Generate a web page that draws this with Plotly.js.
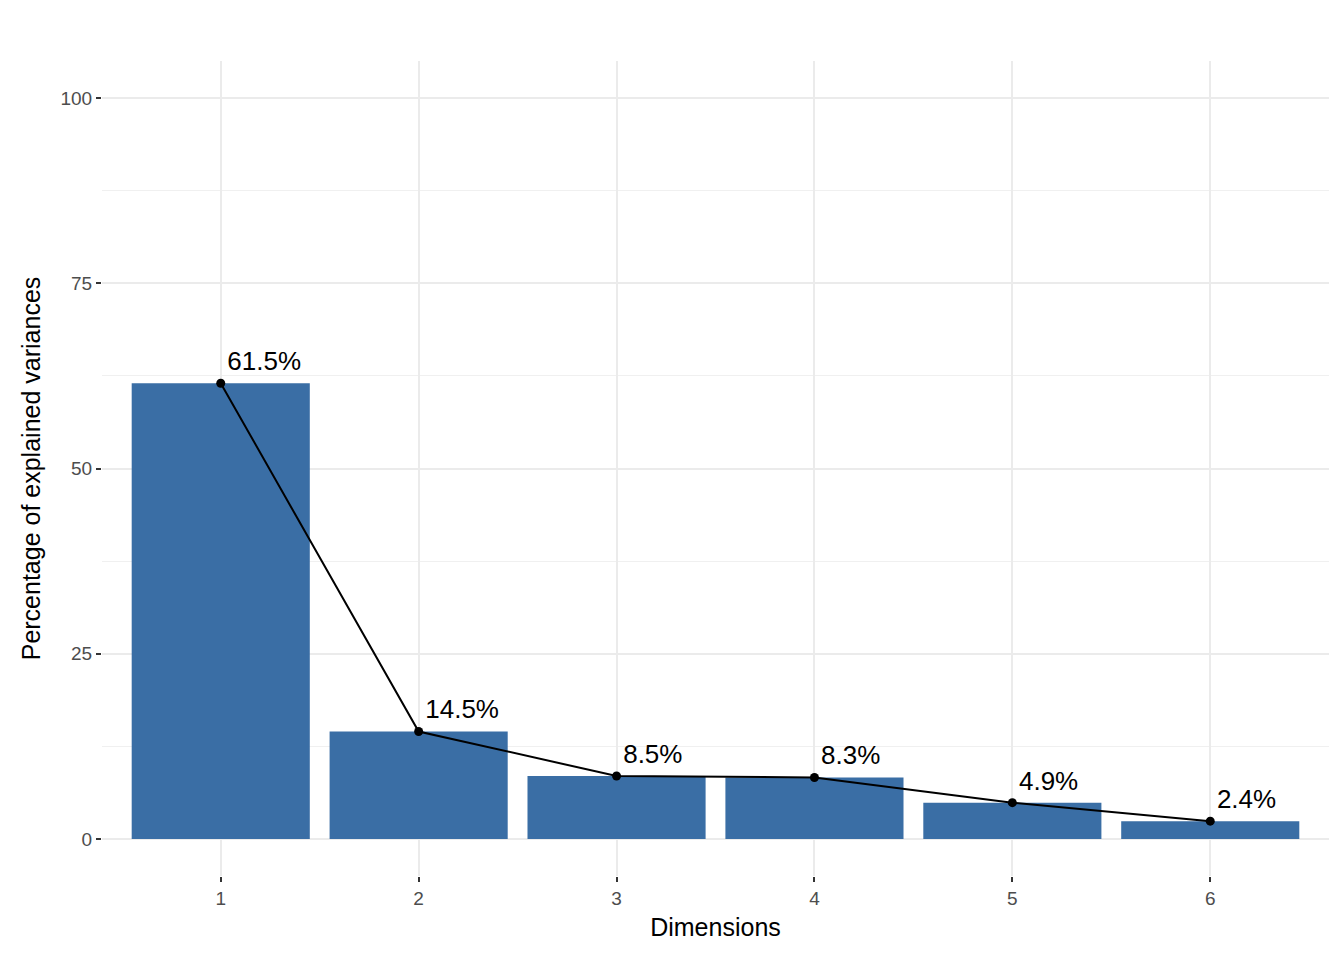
<!DOCTYPE html>
<html><head><script src="https://cdn.plot.ly/plotly-3.0.1.min.js"></script>
<style>body{margin:0}</style></head><body>
<div id="c" style="width:1344px;height:960px"></div>
<script>
const dims=[1,2,3,4,5,6];
const variances=[61.5,14.5,8.5,8.3,4.9,2.4];
const labels=["61.5%","14.5%","8.5%","8.3%","4.9%","2.4%"];
const tickLabelsY=["0","25","50","75","100"];
const tickValsY=[0,25,50,75,100];
Plotly.newPlot('c',[
 {type:'bar',x:dims,y:variances,width:0.9,marker:{color:'#3a6ea5'},hoverinfo:'skip'},
 {type:'scatter',mode:'lines+markers+text',x:dims,y:variances,text:labels,textposition:'top right',
  textfont:{family:'Liberation Sans, Arial',size:26,color:'#000'},
  line:{color:'#000',width:2},marker:{color:'#000',size:9}}
],{
 width:1344,height:960,showlegend:false,
 paper_bgcolor:'#fff',plot_bgcolor:'#fff',
 margin:{l:102,r:15,t:61,b:84},
 font:{family:'Liberation Sans, Arial'},
 xaxis:{range:[0.4,6.6],tickvals:dims,ticktext:dims.map(String),showgrid:true,gridcolor:'#ebebeb',gridwidth:2,zeroline:false,
  ticks:'outside',ticklen:5,tickcolor:'#333',tickwidth:2,tickfont:{size:19,color:'#4d4d4d'},showline:false,
  title:{text:'Dimensions',font:{size:25,color:'#000'},standoff:10}},
 yaxis:{range:[-5,105],tickvals:tickValsY,ticktext:tickLabelsY,showgrid:true,gridcolor:'#ebebeb',gridwidth:2,zeroline:false,
  minor:{dtick:12.5,showgrid:true,gridcolor:'#f0f0f0',gridwidth:1},
  ticks:'outside',ticklen:5,tickcolor:'#333',tickwidth:2,tickfont:{size:19,color:'#4d4d4d'},
  title:{text:'Percentage of explained variances',font:{size:25,color:'#000'},standoff:12}}
},{displayModeBar:false});
</script></body></html>
